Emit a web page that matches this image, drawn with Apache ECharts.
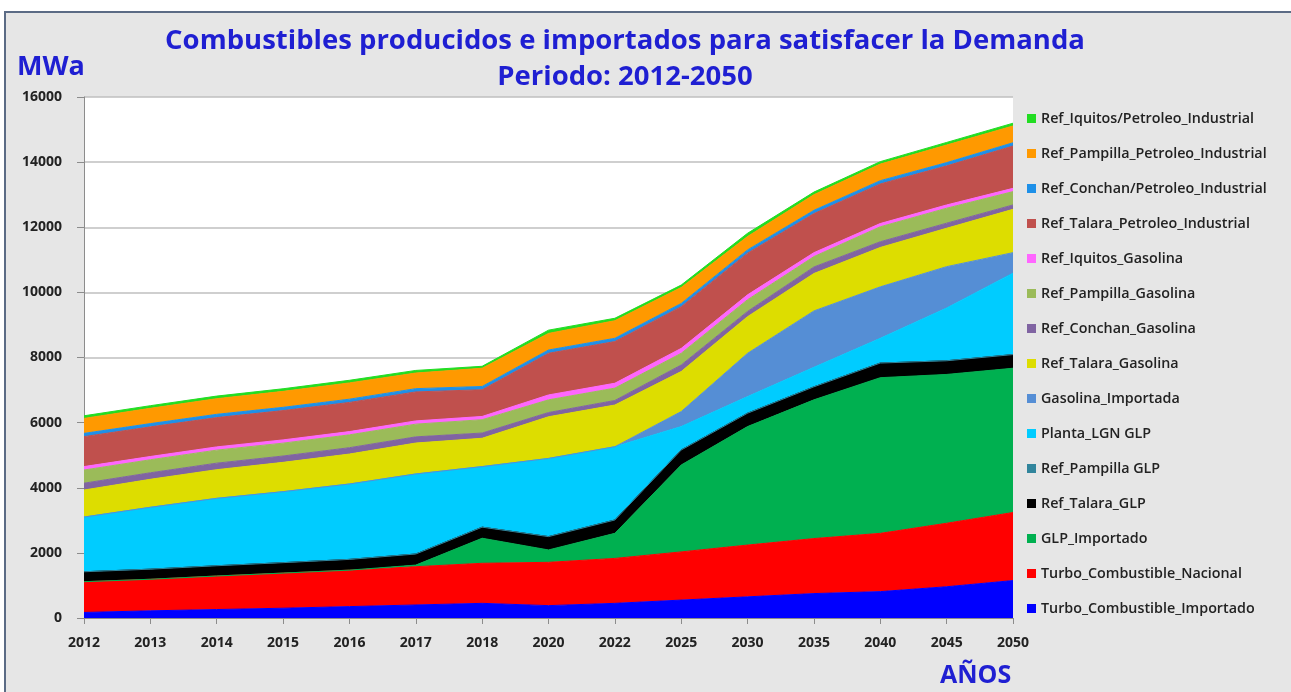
<!DOCTYPE html>
<html>
<head>
<meta charset="utf-8">
<title>Combustibles producidos e importados</title>
<script src="https://cdn.jsdelivr.net/npm/echarts@6/dist/echarts.min.js"></script>
<style>
  html, body { margin: 0; padding: 0; background: #fff; }
  #chart { width: 1291px; height: 692px; }
</style>
</head>
<body>
<div id="chart"></div>
<script>
// categories (not evenly spaced years, plotted as categories)
const years = ['2012', '2013', '2014', '2015', '2016', '2017', '2018', '2020', '2022', '2025', '2030', '2035', '2040', '2045', '2050'];
const yTicks = [0, 2000, 4000, 6000, 8000, 10000, 12000, 14000, 16000];

// MWa, stacked bottom -> top
const turboImportado   = [170, 220, 260, 300, 350, 400, 450, 380, 450, 550, 650, 750, 810, 960, 1150];
const turboNacional    = [945, 970, 1030, 1080, 1120, 1175, 1230, 1330, 1380, 1480, 1590, 1690, 1790, 1950, 2090];
const glpImportado     = [0, 0, 0, 0, 0, 50, 770, 380, 770, 2670, 3640, 4260, 4780, 4570, 4430];
const talaraGlp        = [305, 310, 315, 320, 330, 340, 340, 410, 410, 460, 410, 400, 450, 420, 420];
const pampillaGlp      = [0, 0, 0, 0, 0, 0, 0, 0, 0, 0, 0, 0, 0, 0, 0];
const plantaLgnGlp     = [1680, 1900, 2070, 2180, 2315, 2458, 1860, 2400, 2250, 720, 510, 600, 760, 1620, 2500];
const gasolinaImport   = [0, 0, 0, 0, 0, 0, 0, 0, 0, 460, 1330, 1730, 1580, 1270, 630];
const talaraGasolina   = [830, 860, 880, 900, 920, 950, 870, 1280, 1280, 1230, 1125, 1150, 1210, 1180, 1330];
const conchanGasolina  = [210, 200, 200, 195, 195, 190, 160, 130, 140, 200, 160, 200, 175, 155, 135];
const pampillaGasolina = [405, 400, 400, 395, 395, 390, 410, 390, 380, 360, 360, 320, 460, 460, 410];
const iquitosGasolina  = [105, 100, 100, 100, 100, 100, 100, 150, 150, 150, 150, 120, 100, 100, 100];
const talaraPetroleo   = [920, 910, 900, 900, 895, 890, 820, 1280, 1280, 1280, 1280, 1200, 1215, 1200, 1300];
const conchanPetroleo  = [100, 100, 100, 100, 100, 100, 100, 100, 100, 100, 100, 100, 100, 100, 100];
const pampillaPetroleo = [460, 470, 480, 490, 500, 480, 560, 510, 540, 490, 410, 480, 510, 540, 515];
const iquitosPetroleo  = [80, 80, 80, 80, 80, 80, 60, 100, 75, 75, 100, 80, 75, 80, 85];

const seriesDefs = [
  ['Turbo_Combustible_Importado', turboImportado, '#0000FF'],
  ['Turbo_Combustible_Nacional', turboNacional, '#FF0000'],
  ['GLP_Importado', glpImportado, '#00B050'],
  ['Ref_Talara_GLP', talaraGlp, '#000000'],
  ['Ref_Pampilla GLP', pampillaGlp, '#31859C'],
  ['Planta_LGN GLP', plantaLgnGlp, '#00CCFF'],
  ['Gasolina_Importada', gasolinaImport, '#558ED5'],
  ['Ref_Talara_Gasolina', talaraGasolina, '#DDDD00'],
  ['Ref_Conchan_Gasolina', conchanGasolina, '#8064A2'],
  ['Ref_Pampilla_Gasolina', pampillaGasolina, '#9BBB59'],
  ['Ref_Iquitos_Gasolina', iquitosGasolina, '#FF66FF'],
  ['Ref_Talara_Petroleo_Industrial', talaraPetroleo, '#C0504D'],
  ['Ref_Conchan/Petroleo_Industrial', conchanPetroleo, '#1E90E8'],
  ['Ref_Pampilla_Petroleo_Industrial', pampillaPetroleo, '#FF9900'],
  ['Ref_Iquitos/Petroleo_Industrial', iquitosPetroleo, '#22DD22'],
];

const blue = '#1F1FD2';
const font = '"Open Sans", "Liberation Sans", sans-serif';

const chart = echarts.init(document.getElementById('chart'));
chart.setOption({
  animation: false,
  textStyle: { fontFamily: font },
  graphic: [
    {
      type: 'rect', z: -10, silent: true,
      shape: { x: 5, y: 12, width: 1300, height: 700 },
      style: { fill: '#E6E6E6', stroke: '#5B6B85', lineWidth: 2 },
    },
    {
      type: 'text', left: 17, top: 54,
      style: { text: 'MWa', fill: blue, font: 'bold 27px ' + font },
    },
    {
      type: 'text', left: 940, top: 663,
      style: { text: 'AÑOS', fill: blue, font: 'bold 25px ' + font },
    },
  ],
  title: {
    text: 'Combustibles producidos e importados para satisfacer la Demanda\nPeriodo: 2012-2050',
    left: 620,
    textAlign: 'center',
    top: 18,
    textStyle: { color: blue, fontSize: 27.5, fontWeight: 'bold', lineHeight: 36, fontFamily: font },
  },
  legend: {
    orient: 'vertical',
    left: 1022,
    top: 105,
    itemWidth: 9,
    itemHeight: 9,
    itemGap: 18,
    icon: 'rect',
    data: seriesDefs.map(d => d[0]).reverse(),
    textStyle: { color: '#222', fontSize: 14.3, fontWeight: 600, lineHeight: 17, fontFamily: font },
  },
  grid: {
    left: 84, top: 97, right: 278, bottom: 74,
    show: true, backgroundColor: '#fff', borderWidth: 0,
  },
  xAxis: {
    type: 'category',
    boundaryGap: false,
    data: years,
    axisLine: { lineStyle: { color: '#8C8C8C' } },
    axisTick: { alignWithLabel: true, length: 6, lineStyle: { color: '#8C8C8C' } },
    axisLabel: { color: '#222', fontWeight: 'bold', fontSize: 14, margin: 18 },
  },
  yAxis: {
    type: 'value',
    min: yTicks[0],
    max: yTicks[yTicks.length - 1],
    interval: 2000,
    axisLine: { show: true, lineStyle: { color: '#8C8C8C' } },
    axisTick: { show: true, length: 7, lineStyle: { color: '#8C8C8C' } },
    axisLabel: { color: '#222', fontWeight: 'bold', fontSize: 14, margin: 22, formatter: v => String(v) },
    splitLine: { lineStyle: { color: '#BFBFBF', width: 1.5 } },
  },
  series: seriesDefs.map(([name, data, color]) => ({
    name,
    type: 'line',
    stack: 'total',
    data,
    symbol: 'none',
    color,
    lineStyle: { width: 1, color },
    areaStyle: { color, opacity: 1 },
  })),
});
</script>
</body>
</html>
